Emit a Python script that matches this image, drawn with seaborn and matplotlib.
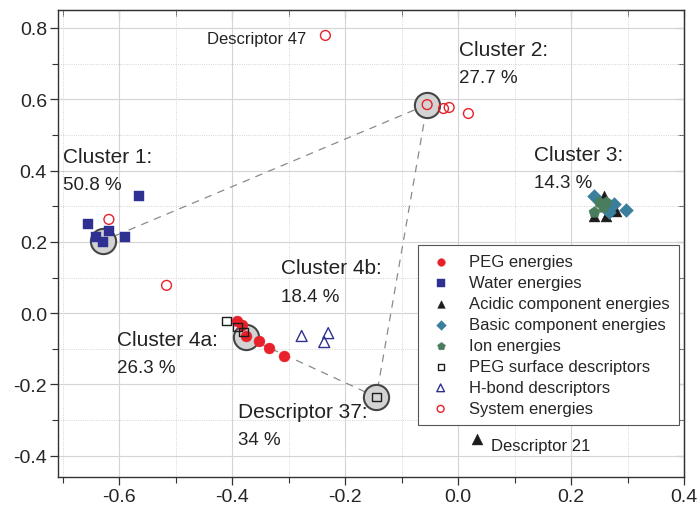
import numpy as np
import matplotlib
matplotlib.use('Agg')
import matplotlib.pyplot as plt
from matplotlib.ticker import MultipleLocator
import pandas as pd
import seaborn as sns

# point groups (x, y)
peg_x = [-0.392, -0.382, -0.375, -0.352, -0.334, -0.309]
peg_y = [-0.023, -0.034, -0.063, -0.079, -0.099, -0.120]
water_x = [-0.565, -0.655, -0.641, -0.618, -0.629, -0.590]
water_y = [0.330, 0.249, 0.213, 0.230, 0.200, 0.213]
acid_x = [0.258, 0.240, 0.261, 0.279, 0.034]
acid_y = [0.328, 0.272, 0.272, 0.286, -0.353]
basic_x = [0.240, 0.276, 0.297, 0.267]
basic_y = [0.328, 0.305, 0.289, 0.283]
ion_x = [0.249, 0.261, 0.240, 0.256]
ion_y = [0.311, 0.311, 0.283, 0.297]
surf_x = [-0.410, -0.390, -0.380, -0.145]
surf_y = [-0.022, -0.039, -0.053, -0.235]
hb_x = [-0.277, -0.230, -0.237]
hb_y = [-0.064, -0.056, -0.081]
sys_x = [-0.235, -0.055, -0.026, -0.016, 0.018, -0.618, -0.516]
sys_y = [0.779, 0.585, 0.574, 0.577, 0.560, 0.263, 0.078]

# cluster centres, joined by the dashed outline
cent_x = [-0.628, -0.055, -0.145, -0.376]
cent_y = [0.203, 0.585, -0.235, -0.067]

sns.set_style('white')
plt.rcParams['font.family'] = ['Liberation Sans', 'DejaVu Sans']

fig = plt.figure(figsize=(6.99, 5.06), dpi=100)
ax = fig.add_axes([0.083, 0.055, 0.896, 0.923])

ax.grid(True, which='major', color='#d4d4d4', lw=0.8, ls='-')
ax.grid(True, which='minor', color='#c8c8c8', lw=0.6, ls=':')
ax.set_axisbelow(True)

outline = pd.DataFrame({'x': cent_x + cent_x[:1], 'y': cent_y + cent_y[:1]})
sns.lineplot(data=outline, x='x', y='y', sort=False, ax=ax, color='#8a8a8a',
             lw=0.9, dashes=False, linestyle=(0, (6, 5)), zorder=1)

sns.scatterplot(x=cent_x, y=cent_y, ax=ax, s=330, color='#d3d3d3',
                edgecolor='#454545', linewidth=1.5, zorder=2)

groups = [
    ('PEG energies', peg_x, peg_y, 'o', '#e8202a', True, 62),
    ('Water energies', water_x, water_y, 's', '#2e3192', True, 52),
    ('Acidic component energies', acid_x, acid_y, '^', '#1c1c1c', True, 62),
    ('Basic component energies', basic_x, basic_y, 'D', '#3a7f9e', True, 50),
    ('Ion energies', ion_x, ion_y, 'p', '#4a7d5d', True, 72),
    ('PEG surface descriptors', surf_x, surf_y, 's', '#1c1c1c', False, 40),
    ('H-bond descriptors', hb_x, hb_y, '^', '#2e3192', False, 62),
    ('System energies', sys_x, sys_y, 'o', '#e8202a', False, 50),
]
for label, gx, gy, mk, col, filled, size in groups:
    if filled:
        sns.scatterplot(x=gx, y=gy, ax=ax, marker=mk, s=size, color=col,
                        edgecolor=col, linewidth=0.3, label=label, zorder=3)
    else:
        sns.scatterplot(x=gx, y=gy, ax=ax, marker=mk, s=size, facecolor='none',
                        edgecolor=col, linewidth=1.0, label=label, zorder=3)

ax.set_xlim(-0.708, 0.40)
ax.set_ylim(-0.46, 0.85)
ax.xaxis.set_major_locator(MultipleLocator(0.2))
ax.xaxis.set_minor_locator(MultipleLocator(0.1))
ax.yaxis.set_major_locator(MultipleLocator(0.2))
ax.yaxis.set_minor_locator(MultipleLocator(0.1))
ax.set_xlabel('')
ax.set_ylabel('')
ax.tick_params(which='major', direction='out', length=6, width=0.9, pad=2,
               labelsize=14, color='#333333', left=True, bottom=True)
ax.tick_params(which='minor', direction='out', length=4, width=0.8,
               color='#333333', left=True, bottom=True)
ax.xaxis.set_major_formatter(matplotlib.ticker.FormatStrFormatter('%.1f'))
ax.yaxis.set_major_formatter(matplotlib.ticker.FormatStrFormatter('%.1f'))

for side in ['right', 'top']:
    if side == 'right':
        sec = ax.secondary_yaxis('right')
        sec.yaxis.set_major_locator(MultipleLocator(0.2))
        sec.yaxis.set_minor_locator(MultipleLocator(0.1))
        sec.tick_params(which='both', direction='in', labelright=False, color='#333333')
    else:
        sec = ax.secondary_xaxis('top')
        sec.xaxis.set_major_locator(MultipleLocator(0.2))
        sec.xaxis.set_minor_locator(MultipleLocator(0.1))
        sec.tick_params(which='both', direction='in', labeltop=False, color='#333333')
    sec.tick_params(which='major', length=6)
    sec.tick_params(which='minor', length=4)
    for sp in sec.spines.values():
        sp.set_color('#333333')

for sp in ax.spines.values():
    sp.set_visible(True)
    sp.set_color('#333333')
    sp.set_linewidth(1.0)

# cluster annotations
big = 15
pct = 13.5
ax.text(-0.700, 0.440, 'Cluster 1:', fontsize=big, va='center', color='#222222')
ax.text(-0.700, 0.361, '50.8 %', fontsize=pct, va='center', color='#222222')
ax.text(0.002, 0.739, 'Cluster 2:', fontsize=big, va='center', color='#222222')
ax.text(0.002, 0.661, '27.7 %', fontsize=pct, va='center', color='#222222')
ax.text(0.134, 0.445, 'Cluster 3:', fontsize=big, va='center', color='#222222')
ax.text(0.134, 0.367, '14.3 %', fontsize=pct, va='center', color='#222222')
ax.text(-0.313, 0.129, 'Cluster 4b:', fontsize=big, va='center', color='#222222')
ax.text(-0.313, 0.048, '18.4 %', fontsize=pct, va='center', color='#222222')
ax.text(-0.604, -0.073, 'Cluster 4a:', fontsize=big, va='center', color='#222222')
ax.text(-0.604, -0.151, '26.3 %', fontsize=pct, va='center', color='#222222')
ax.text(-0.390, -0.275, 'Descriptor 37:', fontsize=big, va='center', color='#222222')
ax.text(-0.390, -0.353, '34 %', fontsize=pct, va='center', color='#222222')
ax.text(-0.268, 0.770, 'Descriptor 47', fontsize=12, va='center', ha='right', color='#222222')
ax.text(0.058, -0.372, 'Descriptor 21', fontsize=12, va='center', ha='left', color='#222222')

leg = ax.legend(loc='upper left', bbox_to_anchor=(0.575, 0.497), fontsize=12,
                frameon=True, fancybox=False, framealpha=1, edgecolor='#555555',
                borderaxespad=0, labelspacing=0.36, handletextpad=0.9,
                markerscale=0.7, borderpad=0.55, handlelength=1.6)
leg.get_frame().set_linewidth(0.8)

fig.savefig('out.png', dpi=100)
